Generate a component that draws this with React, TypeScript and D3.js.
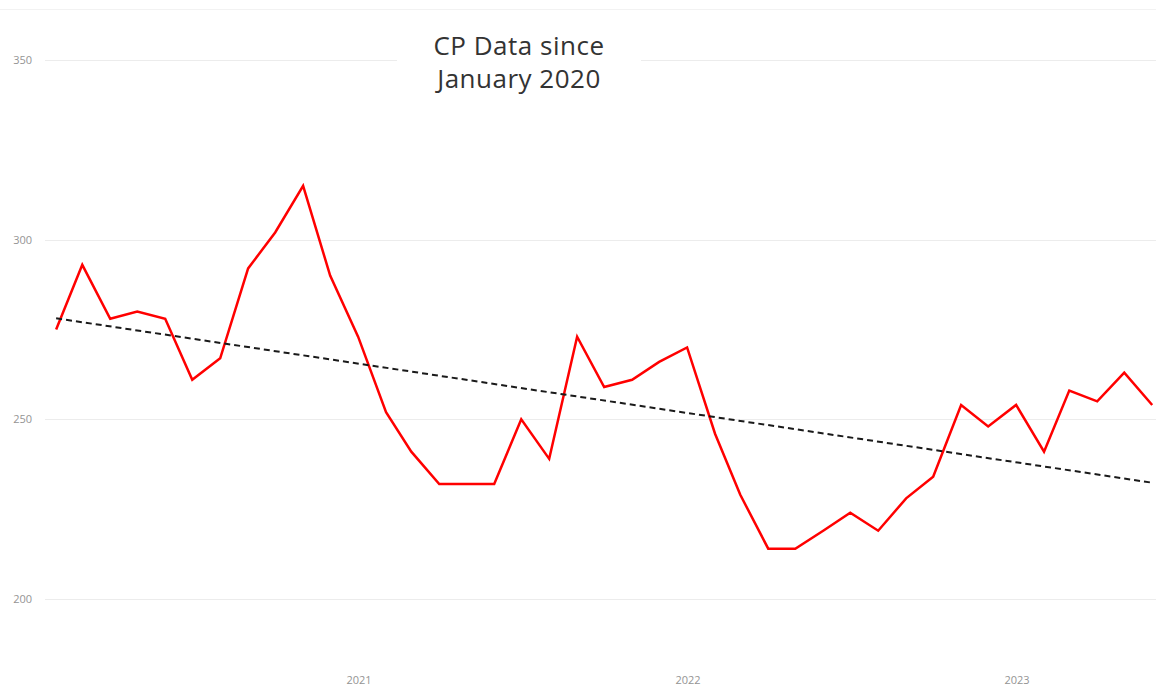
import { useEffect, useRef } from 'react'
import * as d3 from 'd3'

// monthly CP values, Jan 2020 onwards
const months = [
  '2020-01', '2020-02', '2020-03', '2020-04', '2020-05', '2020-06',
  '2020-07', '2020-08', '2020-09', '2020-10', '2020-11', '2020-12',
  '2021-01', '2021-02', '2021-03', '2021-04', '2021-05', '2021-06',
  '2021-07', '2021-08', '2021-09', '2021-10', '2021-11', '2021-12',
  '2022-01', '2022-02', '2022-03', '2022-04', '2022-05', '2022-06',
  '2022-07', '2022-08', '2022-09', '2022-10', '2022-11', '2022-12',
  '2023-01', '2023-02', '2023-03', '2023-04', '2023-05',
]
const cpValues = [
  275, 293, 278, 280, 278, 261, 267, 292, 302, 315, 290, 273,
  252, 241, 232, 232, 232, 250, 239, 273, 259, 261, 266, 270,
  246, 229, 214, 214, 219, 224, 219, 228, 234, 254, 248, 254,
  241, 258, 255, 263, 254,
]
const yTicks = [200, 250, 300, 350]
const xTickYears = ['2021', '2022', '2023']
const titleLines = ['CP Data since', 'January 2020']

const W = 1156
const H = 686

// points sit on the last day of each month
const monthEnd = (m: string) => {
  const [y, mo] = m.split('-').map(Number)
  return new Date(y, mo, 0)
}

function App() {
  const svgRef = useRef<SVGSVGElement>(null)

  useEffect(() => {
    if (!svgRef.current) return
    const svg = d3.select(svgRef.current)
    svg.selectAll('*').remove()

    const data = months.map((m, i) => ({ date: monthEnd(m), value: cpValues[i] }))

    const x = d3.scaleTime()
      .domain([new Date(2021, 0, 1), new Date(2023, 0, 1)])
      .range([359, 1017])
    const y = d3.scaleLinear()
      .domain([200, 350])
      .range([599, 60])

    // faint top border
    svg.append('line')
      .attr('x1', 0).attr('x2', W)
      .attr('y1', 9.5).attr('y2', 9.5)
      .attr('stroke', '#f2f2f2')
      .attr('stroke-width', 1)

    // grid lines
    svg.append('g')
      .selectAll('line')
      .data(yTicks)
      .enter()
      .append('line')
      .attr('x1', 45)
      .attr('x2', W)
      .attr('y1', d => Math.round(y(d)) + 0.5)
      .attr('y2', d => Math.round(y(d)) + 0.5)
      .attr('stroke', '#ececec')
      .attr('stroke-width', 1)

    // y labels
    svg.append('g')
      .selectAll('text')
      .data(yTicks)
      .enter()
      .append('text')
      .attr('x', 32)
      .attr('y', d => y(d))
      .attr('dy', '0.35em')
      .attr('text-anchor', 'end')
      .style('font-family', '"Open Sans", sans-serif')
      .style('font-size', '11px')
      .style('fill', '#949494')
      .text(d => d)

    // x labels
    svg.append('g')
      .selectAll('text')
      .data(xTickYears)
      .enter()
      .append('text')
      .attr('x', d => x(new Date(+d, 0, 1)))
      .attr('y', 684)
      .attr('text-anchor', 'middle')
      .style('font-family', '"Open Sans", sans-serif')
      .style('font-size', '11px')
      .style('fill', '#949494')
      .text(d => d)

    const plot = svg.append('g')

    // least squares trend over the data
    const xs = data.map(d => +d.date)
    const ys = data.map(d => d.value)
    const mx = d3.mean(xs) as number
    const my = d3.mean(ys) as number
    const slope = d3.sum(xs, (v, i) => (v - mx) * (ys[i] - my)) / d3.sum(xs, v => (v - mx) ** 2)
    const trend = (t: number) => my + slope * (t - mx)
    const first = data[0].date
    const last = data[data.length - 1].date

    const line = d3.line<{ date: Date; value: number }>()
      .x(d => x(d.date))
      .y(d => y(d.value))

    plot.append('path')
      .datum(data)
      .attr('d', line)
      .attr('fill', 'none')
      .attr('stroke', '#ff0000')
      .attr('stroke-width', 2.5)
      .attr('stroke-linejoin', 'miter')

    plot.append('line')
      .attr('x1', x(first))
      .attr('y1', y(trend(+first)))
      .attr('x2', x(last))
      .attr('y2', y(trend(+last)))
      .attr('stroke', '#1a1a1a')
      .attr('stroke-width', 2)
      .attr('stroke-dasharray', '6 4')

    // title box covering the top grid line
    const title = svg.append('g')
    title.append('rect')
      .attr('x', 397).attr('y', 25)
      .attr('width', 244).attr('height', 75)
      .attr('fill', '#ffffff')
    title.selectAll('text')
      .data(titleLines)
      .enter()
      .append('text')
      .attr('x', 519)
      .attr('y', (d, i) => 55 + i * 33)
      .attr('text-anchor', 'middle')
      .style('font-family', '"Open Sans", sans-serif')
      .style('font-size', '26px')
      .style('font-weight', 500)
      .style('letter-spacing', '0.5px')
      .style('fill', '#333333')
      .text(d => d)
  }, [])

  return (
    <svg
      ref={svgRef}
      width={W}
      height={H}
      style={{ position: 'fixed', left: 0, top: 0, background: '#ffffff', display: 'block' }}
    />
  )
}

export default App
